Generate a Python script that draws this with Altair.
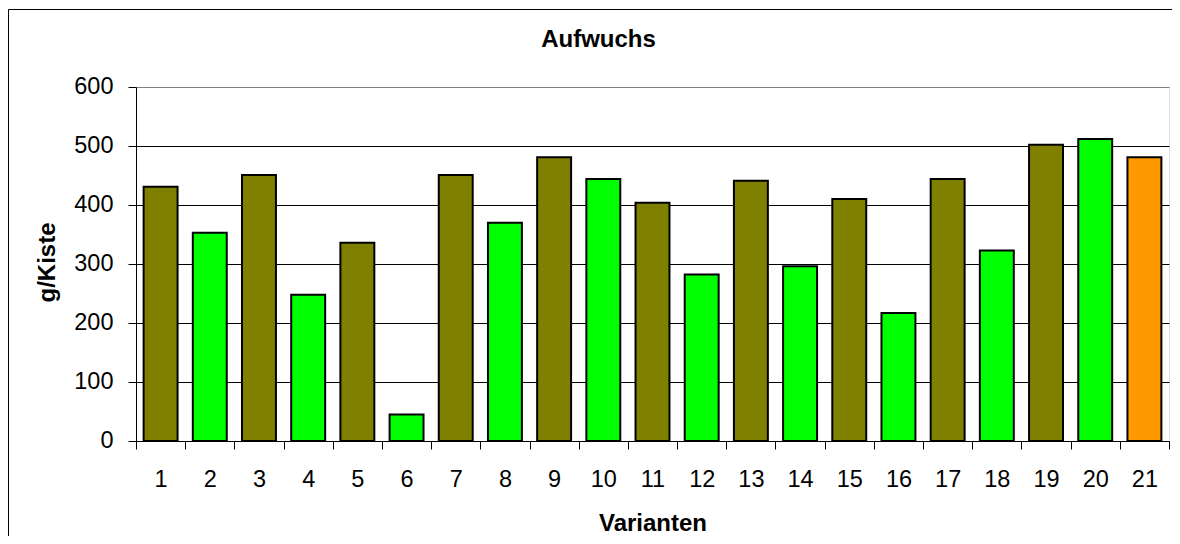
import altair as alt
import pandas as pd

# --- data ---
varianten = [str(i) for i in range(1, 22)]
werte = [431, 353, 451, 248, 336, 45, 451, 370, 481, 444, 404,
         282, 441, 296, 410, 217, 444, 323, 502, 512, 481]
gruppen = ["A", "B", "A", "B", "A", "B", "A", "B", "A", "B", "A",
           "B", "A", "B", "A", "B", "A", "B", "A", "B", "C"]
gruppen_namen = ["A", "B", "C"]
gruppen_farben = ["#808000", "#00FF00", "#FF9900"]
y_ticks = [0, 100, 200, 300, 400, 500, 600]

df = pd.DataFrame({"Variante": varianten, "Wert": werte, "Gruppe": gruppen})

FONT = "Liberation Sans"
W, H = 1033, 354
PAD = {"left": 128, "top": 79, "right": 3, "bottom": 95}

x_enc = alt.X(
    "Variante:N",
    sort=varianten,
    scale=alt.Scale(paddingInner=0, paddingOuter=0),
    axis=alt.Axis(
        title="Varianten",
        labelAngle=0,
        tickBand="extent",
        tickSize=8,
        tickColor="black",
        domainColor="black",
        labelFont=FONT,
        labelFontSize=23.5,
        labelColor="black",
        labelPadding=18,
        labelBaseline="top",
        titleFont=FONT,
        titleFontSize=24,
        titleFontWeight="bold",
        titleColor="black",
        titleBaseline="alphabetic",
        titleY=89,
        grid=False,
    ),
)

y_enc = alt.Y(
    "Wert:Q",
    scale=alt.Scale(domain=[0, 600], nice=False),
    axis=alt.Axis(
        title="g/Kiste",
        values=y_ticks,
        tickSize=8,
        tickColor="black",
        domainColor="black",
        labelFont=FONT,
        labelFontSize=23.5,
        labelColor="black",
        labelPadding=15,
        labelOffset=-1,
        titleFont=FONT,
        titleFontSize=24,
        titleFontWeight="bold",
        titleColor="black",
        titleBaseline="alphabetic",
        titleX=-82,
        titleY=175,
        grid=True,
        gridColor=alt.condition("datum.value == 600", alt.value("#808080"), alt.value("black")),
        gridWidth=1,
    ),
)

bars = alt.Chart(df).mark_bar(
    width=alt.RelativeBandSize(0.69),
    stroke="black",
    strokeWidth=2,
).encode(
    x=x_enc,
    y=y_enc,
    color=alt.Color(
        "Gruppe:N",
        scale=alt.Scale(domain=gruppen_namen, range=gruppen_farben),
        legend=None,
    ),
)

# chart-area frame (its right and bottom edges lie outside the picture, as in the reference)
frame_data = alt.Data(values=[{"r": 1}])
frame = alt.Chart(frame_data).mark_rect(
    fillOpacity=0, stroke="black", strokeWidth=1
).encode(
    x=alt.value(-127.5),
    y=alt.value(-77.5),
    x2=alt.value(W + 60),
    y2=alt.value(H + 200),
)

chart = alt.layer(bars, frame).properties(
    width=W,
    height=H,
    title=alt.TitleParams(
        "Aufwuchs",
        anchor="middle",
        frame="group",
        dx=-54,
        dy=62,
        offset=0,
        baseline="alphabetic",
        font=FONT,
        fontSize=24,
        fontWeight="bold",
        color="black",
    ),
    autosize=alt.AutoSizeParams(type="none"),
    padding=PAD,
).configure_view(
    fill="#FFFF99",
    stroke="#808080",
    strokeWidth=1,
).configure(background="white")

chart.save("out.html", embed_options={"renderer": "svg", "actions": False})
